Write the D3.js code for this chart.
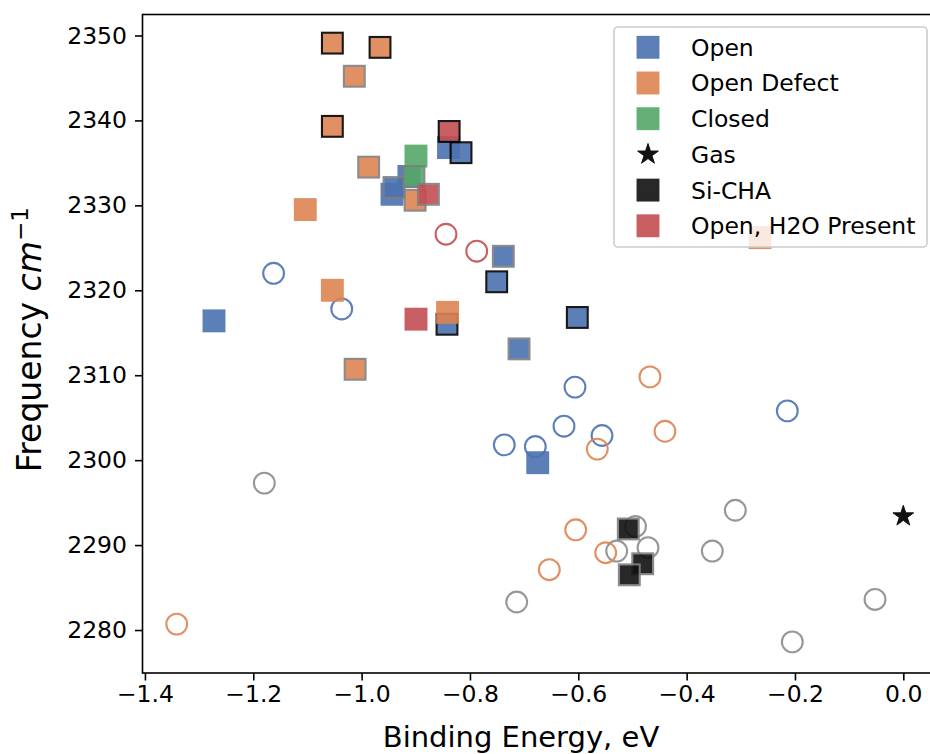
<!DOCTYPE html>
<html>
<head>
<meta charset="utf-8">
<script src="https://cdn.jsdelivr.net/npm/d3@7"></script>
<style>
  body { margin: 0; background: #fff; }
  svg { display: block; }
  text { font-family: "DejaVu Sans", sans-serif; fill: #000; }
</style>
</head>
<body>
<svg id="chart" width="930" height="754"></svg>
<script>
// ---- data: binding energy (eV) and CO2 stretch frequency (cm^-1) ----
// square markers: edge style per point ("none" | "gray" | "black")
const openEnergy = [-1.2725, -0.9127, -0.9439, -0.9402, -0.8396, -0.8165, -0.7384, -0.7506, -0.8424, -0.7094, -0.6018, -0.6749];
const openFreq   = [2316.4, 2333.4, 2331.3, 2332.1, 2336.8, 2336.2, 2324.0, 2321.0, 2316.0, 2313.1, 2316.8, 2299.7];
const openEdge   = ["none", "none", "none", "gray", "none", "black", "gray", "black", "black", "gray", "black", "none"];

const defectEnergy = [-1.054, -0.966, -1.0135, -1.054, -0.987, -1.104, -0.9013, -1.054, -1.012, -0.8413, -0.2645];
const defectFreq   = [2349.1, 2348.6, 2345.2, 2339.3, 2334.5, 2329.5, 2330.6, 2320.0, 2310.7, 2317.4, 2326.2];
const defectEdge   = ["black", "black", "gray", "black", "gray", "none", "gray", "none", "gray", "none", "none"];

const closedEnergy = [-0.8997, -0.9034];
const closedFreq   = [2335.8, 2333.4];
const closedEdge   = ["none", "gray"];

const gasEnergy = [0.0];
const gasFreq   = [2293.4];

const siChaEnergy = [-0.5077, -0.4811, -0.5058];
const siChaFreq   = [2291.9, 2287.8, 2286.5];
const siChaEdge   = ["gray", "gray", "gray"];

const waterEnergy = [-0.8384, -0.8767, -0.8996];
const waterFreq   = [2338.7, 2331.3, 2316.6];
const waterEdge   = ["black", "gray", "none"];

// open circle markers
const openRingEnergy = [-1.1625, -1.0367, -0.6061, -0.2141, -0.7366, -0.6793, -0.6264, -0.5562];
const openRingFreq   = [2322.0, 2317.8, 2308.6, 2305.8, 2301.8, 2301.6, 2304.0, 2302.9];

const defectRingEnergy = [-1.3413, -0.4677, -0.4400, -0.5649, -0.6048, -0.5494, -0.6535];
const defectRingFreq   = [2280.7, 2309.8, 2303.4, 2301.3, 2291.8, 2289.1, 2287.1];

const waterRingEnergy = [-0.8442, -0.7875];
const waterRingFreq   = [2326.6, 2324.6];

const otherRingEnergy = [-1.1796, -0.7137, -0.3101, -0.3526, -0.0522, -0.2049, -0.4944, -0.4713, -0.5291];
const otherRingFreq   = [2297.3, 2283.3, 2294.1, 2289.3, 2283.6, 2278.6, 2292.2, 2289.7, 2289.3];

// axes
const xTicks = [-1.4, -1.2, -1.0, -0.8, -0.6, -0.4, -0.2, 0.0];
const yTicks = [2280, 2290, 2300, 2310, 2320, 2330, 2340, 2350];
const xDomain = [-1.4045, 0.0670];
const yDomain = [2274.94, 2352.47];

const legendLabels = ["Open", "Open Defect", "Closed", "Gas", "Si-CHA", "Open, H2O Present"];

// ---- palette ----
const C = {
  blue: "#4C72B0", orange: "#DD8452", green: "#55A868",
  red: "#C44E52", gray: "#8C8C8C", black: "#111111"
};
const edgeColor = { gray: "#7f7f7f", black: "#000000" };

// ---- layout ----
const plot = { left: 142.5, top: 14.5, right: 939.6, bottom: 673 };
const TICK_FONT = 23.5;
const svg = d3.select("#chart");

const x = d3.scaleLinear().domain(xDomain).range([plot.left, plot.right]);
const y = d3.scaleLinear().domain(yDomain).range([plot.bottom, plot.top]);

svg.append("defs").append("clipPath").attr("id", "plotClip")
  .append("rect")
  .attr("x", plot.left).attr("y", plot.top)
  .attr("width", plot.right - plot.left).attr("height", plot.bottom - plot.top);

const layer = svg.append("g").attr("clip-path", "url(#plotClip)");

const MS = 20.8;       // marker size (px)
const ALPHA = 0.9;

function zipPts(ex, fy, edges) {
  return ex.map((e, i) => ({ e, f: fy[i], edge: edges ? edges[i] : "none" }));
}

function drawRings(ex, fy, color) {
  layer.append("g").selectAll("circle")
    .data(zipPts(ex, fy))
    .join("circle")
    .attr("cx", d => x(d.e))
    .attr("cy", d => y(d.f))
    .attr("r", MS / 2)
    .attr("fill", "none")
    .attr("stroke", color)
    .attr("stroke-width", 2.1)
    .attr("opacity", ALPHA);
}

function drawSquares(ex, fy, edges, color) {
  layer.append("g").selectAll("rect")
    .data(zipPts(ex, fy, edges))
    .join("rect")
    .attr("x", d => x(d.e) - MS / 2)
    .attr("y", d => y(d.f) - MS / 2)
    .attr("width", MS)
    .attr("height", MS)
    .attr("fill", color)
    .attr("stroke", d => d.edge === "none" ? color : edgeColor[d.edge])
    .attr("stroke-width", 2.1)
    .attr("opacity", ALPHA);
}

function starPath(R) {
  const r = R * 0.381966;
  const pts = d3.range(10).map(i => {
    const a = -Math.PI / 2 + i * Math.PI / 5;
    const rad = i % 2 === 0 ? R : r;
    return [rad * Math.cos(a), rad * Math.sin(a)];
  });
  return "M" + pts.map(p => p.join(",")).join("L") + "Z";
}

// open circles first, then squares on top
drawRings(otherRingEnergy, otherRingFreq, C.gray);
drawRings(openRingEnergy, openRingFreq, C.blue);
drawRings(defectRingEnergy, defectRingFreq, C.orange);
drawRings(waterRingEnergy, waterRingFreq, C.red);

drawSquares(openEnergy, openFreq, openEdge, C.blue);
drawSquares(defectEnergy, defectFreq, defectEdge, C.orange);
drawSquares(closedEnergy, closedFreq, closedEdge, C.green);

layer.append("g").selectAll("path")
  .data(zipPts(gasEnergy, gasFreq))
  .join("path")
  .attr("transform", d => `translate(${x(d.e)},${y(d.f)})`)
  .attr("d", starPath(MS / 2 + 0.5))
  .attr("fill", C.black)
  .attr("stroke", C.black)
  .attr("stroke-width", 1);

drawSquares(siChaEnergy, siChaFreq, siChaEdge, C.black);
drawSquares(waterEnergy, waterFreq, waterEdge, C.red);

// ---- axes ----
const fmtX = d3.format(".1f");
const xAxis = svg.append("g")
  .attr("transform", `translate(0,${plot.bottom})`)
  .call(d3.axisBottom(x).tickValues(xTicks).tickFormat(fmtX)
    .tickSize(7.5).tickSizeOuter(0).tickPadding(5));
const yAxis = svg.append("g")
  .attr("transform", `translate(${plot.left},0)`)
  .call(d3.axisLeft(y).tickValues(yTicks).tickFormat(d3.format("d"))
    .tickSize(7.5).tickSizeOuter(0).tickPadding(8));

[xAxis, yAxis].forEach(g => {
  g.select(".domain").remove();
  g.selectAll(".tick line").attr("stroke", "#000").attr("stroke-width", 1.6);
  g.selectAll(".tick text")
    .attr("font-family", "DejaVu Sans")
    .attr("font-size", TICK_FONT)
    .attr("fill", "#000");
});

// frame
svg.append("rect")
  .attr("x", plot.left).attr("y", plot.top)
  .attr("width", plot.right - plot.left).attr("height", plot.bottom - plot.top)
  .attr("fill", "none").attr("stroke", "#000").attr("stroke-width", 1.6);

// axis titles
svg.append("text")
  .attr("x", 521).attr("y", 747)
  .attr("text-anchor", "middle")
  .attr("font-size", 29)
  .text("Binding Energy, eV");

const yTitle = svg.append("text")
  .attr("transform", `translate(41,${(plot.top + plot.bottom) / 2 - 4}) rotate(-90)`)
  .attr("text-anchor", "middle")
  .attr("font-size", 33);
yTitle.append("tspan").text("Frequency ");
yTitle.append("tspan").attr("font-style", "italic").text("cm");
yTitle.append("tspan").attr("font-size", 23).attr("dy", -13).text("\u22121");

// ---- legend ----
const legend = svg.append("g");
legend.append("rect")
  .attr("x", 614).attr("y", 27)
  .attr("width", 313).attr("height", 220)
  .attr("rx", 4)
  .attr("fill", "#fff").attr("fill-opacity", 0.8)
  .attr("stroke", "#cccccc").attr("stroke-width", 1.6);

const legendColors = [C.blue, C.orange, C.green, C.black, C.black, C.red];
const legendRows = legend.selectAll("g.row")
  .data(legendLabels)
  .join("g")
  .attr("class", "row")
  .attr("transform", (d, i) => `translate(648,${47.3 + i * 35.7})`);

legendRows.each(function (d, i) {
  const g = d3.select(this);
  if (d === "Gas") {
    g.append("path").attr("d", starPath(MS / 2 + 0.5))
      .attr("fill", C.black).attr("stroke", C.black).attr("stroke-width", 1);
  } else {
    g.append("rect")
      .attr("x", -MS / 2).attr("y", -MS / 2)
      .attr("width", MS).attr("height", MS)
      .attr("fill", legendColors[i])
      .attr("stroke", legendColors[i]).attr("stroke-width", 2.1)
      .attr("opacity", ALPHA);
  }
  g.append("text")
    .attr("x", 43).attr("y", 0)
    .attr("dy", "0.36em")
    .attr("font-size", TICK_FONT)
    .text(d);
});
</script>
</body>
</html>
